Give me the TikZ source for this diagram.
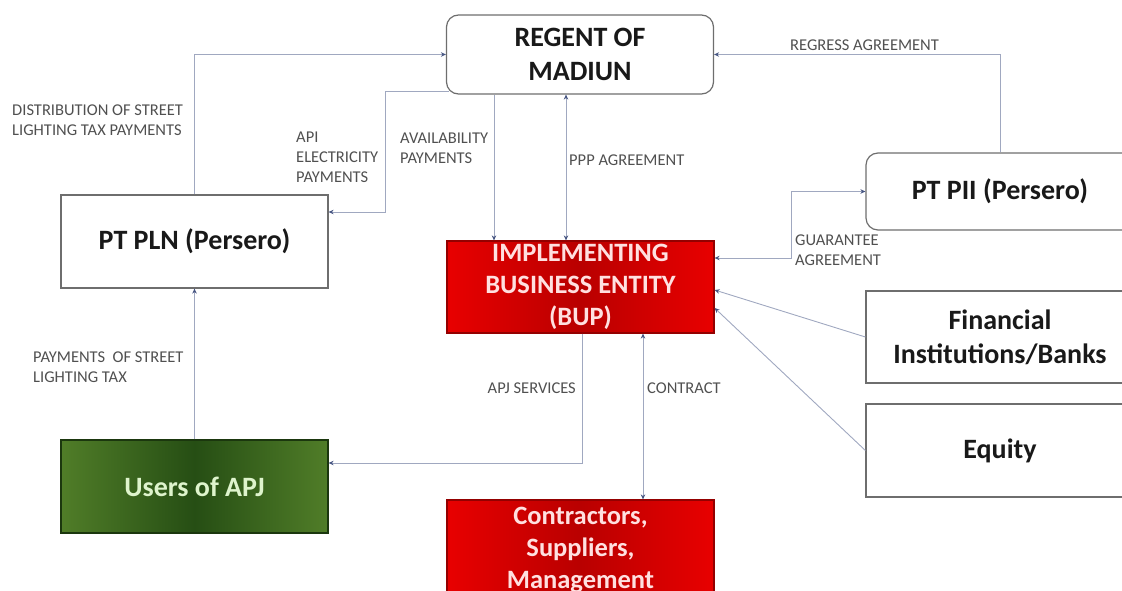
\documentclass[tikz,border=0pt]{standalone}
\usepackage{fontspec}
\setmainfont{Carlito}
\usepackage{tikz}
\usetikzlibrary{arrows.meta}
\usepackage{xcolor}
\definecolor{linegray}{RGB}{160,168,192}
\definecolor{tipblue}{RGB}{70,85,130}
\definecolor{labelgray}{RGB}{80,80,80}
\definecolor{boxgray}{RGB}{110,110,110}
\definecolor{bupred}{RGB}{232,0,0}
\definecolor{bupdark}{RGB}{185,0,0}
\definecolor{apjgreen}{RGB}{80,125,40}
\definecolor{apjdark}{RGB}{38,78,20}
\definecolor{apjtext}{RGB}{222,244,204}

\begin{document}
\begin{tikzpicture}[x=1pt,y=-1pt,
        box/.style={draw=boxgray,line width=1.2pt,fill=white,minimum width=267pt,minimum height=93pt,align=center,inner sep=0pt,text=black!90,font=\fontsize{28}{34}\selectfont\bfseries},
        roundbox/.style={box,rounded corners=12pt},
        redbox/.style={box,draw=bupdark!80!black,left color=bupred,right color=bupred,middle color=bupdark,text=white!88!red,font=\fontsize{26.5}{32}\selectfont\bfseries},
        greenbox/.style={box,draw=apjdark!70!black,left color=apjgreen,right color=apjgreen,middle color=apjdark,text=apjtext},
        conn/.style={draw=linegray,line width=0.9pt,>={Stealth[length=5pt,width=4.5pt,color=tipblue]}},
        lbl/.style={text=labelgray,font=\fontsize{16.5}{20}\selectfont,align=left,inner sep=0pt}]
        \useasboundingbox (0,0) rectangle (1122,591);
        \node[roundbox,minimum height=79pt] (regent) at (580,54.5) {REGENT OF\\MADIUN};
        \node[box] (pln) at (194.5,241.5) {PT PLN (Persero)};
        \node[redbox,minimum height=92pt] (bup) at (580.5,287) {IMPLEMENTING\\BUSINESS ENTITY\\(BUP)};
        \node[roundbox,minimum width=268pt,minimum height=77pt] (pii) at (1000,191.5) {PT PII (Persero)};
        \node[box,minimum width=268pt,minimum height=92pt] (banks) at (1000,337) {Financial\\Institutions/Banks};
        \node[box,minimum width=268pt] (equity) at (1000,450.5) {Equity};
        \node[greenbox] (users) at (194.5,486.5) {Users of APJ};
        \node[redbox,minimum height=100pt] (contractors) at (580.5,550) {Contractors,\\Suppliers,\\Management};
        \draw[conn,->] (pln.north) |- (regent.west);
        \draw[conn,->] ([xshift=3pt,yshift=3pt]regent.south west) -- ++(-63,0) |- ([yshift=29.5pt]pln.east);
        \draw[conn,->] ([xshift=-86pt]regent.south) -- ([xshift=-86pt]regent.south |- bup.north);
        \draw[conn,<->] ([xshift=-14pt]regent.south) -- ([xshift=-14pt]regent.south |- bup.north);
        \draw[conn,->] (pii.north) |- (regent.east);
        \draw[conn,<->] ([yshift=29pt]bup.east) -- ++(77,0) |- (pii.west);
        \draw[conn,->] (banks.west) -- ([yshift=-3pt]bup.east);
        \draw[conn,->] (equity.west) -- ([yshift=-21pt]bup.east);
        \draw[conn,->] ([xshift=1.5pt]bup.south) |- ([yshift=23.5pt]users.east);
        \draw[conn,<->] ([xshift=62.5pt]bup.south) -- ([xshift=62.5pt]contractors.north);
        \draw[conn,->] (users.north) -- (pln.south);
        \node[lbl,anchor=west] (distlbl) at (12,120) {DISTRIBUTION OF STREET\\LIGHTING TAX PAYMENTS};
        \node[lbl,anchor=west] (apilbl) at (296,157) {API\\ELECTRICITY\\PAYMENTS};
        \node[lbl,anchor=west] (availlbl) at (400,148.5) {AVAILABILITY\\PAYMENTS};
        \node[lbl,anchor=west] (ppplbl) at (569,160) {PPP AGREEMENT};
        \node[lbl,anchor=west] (regresslbl) at (790,45) {REGRESS AGREEMENT};
        \node[lbl,anchor=west] (guarlbl) at (795,250.5) {GUARANTEE\\AGREEMENT};
        \node[lbl,anchor=west] (paylbl) at (33,367) {PAYMENTS\ \ OF STREET\\LIGHTING TAX};
        \node[lbl,anchor=east] (apjlbl) at (576,388) {APJ SERVICES};
        \node[lbl,anchor=west] (contractlbl) at (647,388) {CONTRACT};
\end{tikzpicture}
\end{document}
